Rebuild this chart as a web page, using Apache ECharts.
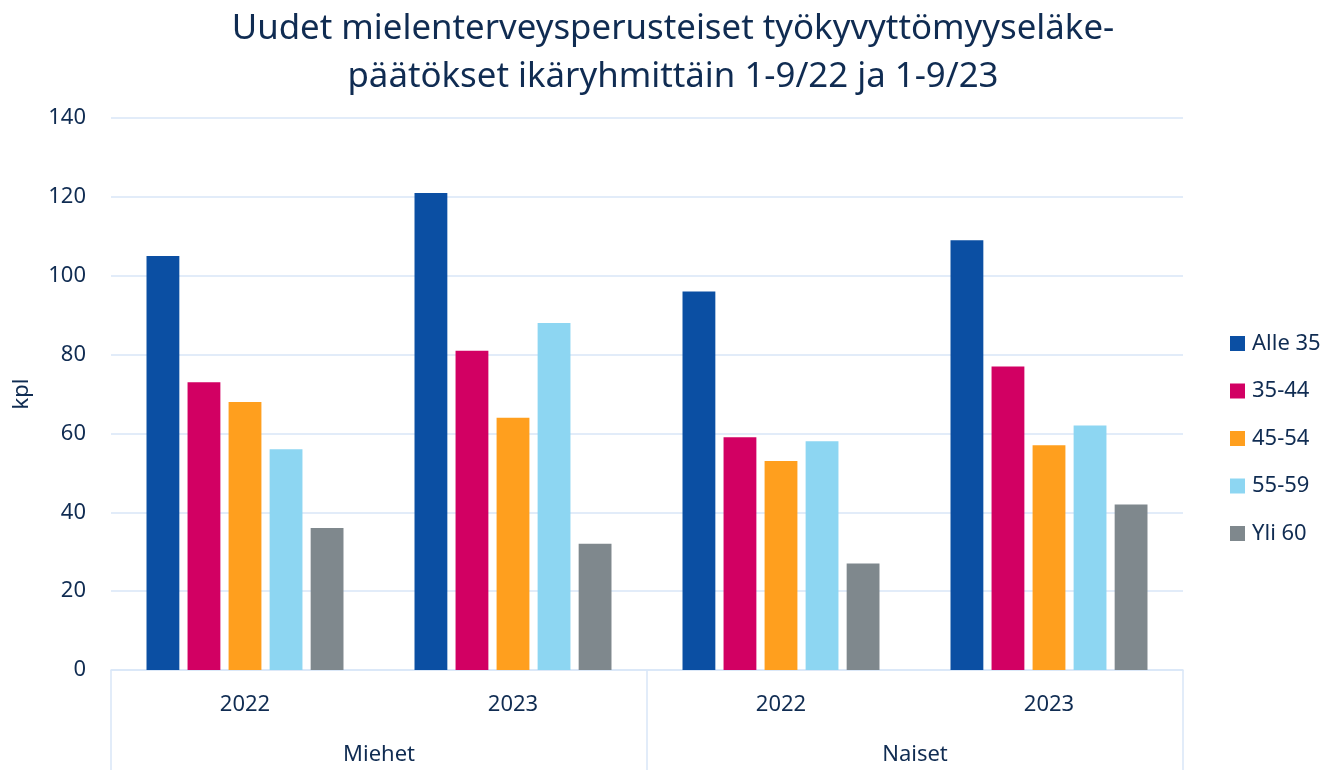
<!DOCTYPE html>
<html>
<head>
<meta charset="utf-8">
<script src="https://cdn.jsdelivr.net/npm/echarts@6/dist/echarts.min.js"></script>
<style>html,body{margin:0;padding:0;background:#fff}#c{width:1326px;height:770px}</style>
</head>
<body>
<div id="c"></div>
<script>
const years = ['2022', '2023', '2022', '2023'];
const groups = ['Miehet', 'Naiset'];
const seriesNames = ['Alle 35', '35-44', '45-54', '55-59', 'Yli 60'];
const alle35 = [105, 121, 96, 109];
const s35_44 = [73, 81, 59, 77];
const s45_54 = [68, 64, 53, 57];
const s55_59 = [56, 88, 58, 62];
const yli60 = [36, 32, 27, 42];
const yTicks = [0, 20, 40, 60, 80, 100, 120, 140];
const colors = ['#0b4fa3', '#d20063', '#ff9f1e', '#8dd6f2', '#7f888d'];
const textColor = '#102c52';
const gridColor = '#d9e6f7';
const FONT = 'Noto Sans';

const values = [alle35, s35_44, s45_54, s55_59, yli60];
const chart = echarts.init(document.getElementById('c'), null, {renderer: 'canvas'});
chart.setOption({
  animation: false,
  color: colors,
  textStyle: {fontFamily: FONT, color: textColor},
  title: {
    text: 'Uudet mielenterveysperusteiset työkyvyttömyyseläke-\npäätökset ikäryhmittäin 1-9/22 ja 1-9/23',
    left: 668, top: 0, textAlign: 'center',
    textStyle: {fontFamily: FONT, fontSize: 34.8, fontWeight: 'normal', color: textColor, lineHeight: 48}
  },
  legend: {
    orient: 'vertical', left: 1225, top: 327.5,
    icon: 'rect', itemWidth: 15, itemHeight: 15, itemGap: 25.5,
    textStyle: {fontFamily: FONT, fontSize: 22, color: textColor, padding: [0, 0, 0, 2]},
    data: seriesNames
  },
  grid: {left: 111, right: 143, top: 118, bottom: 100, containLabel: false},
  xAxis: [
    {
      type: 'category', data: years, gridIndex: 0, position: 'bottom',
      axisLine: {show: true, lineStyle: {color: gridColor, width: 1.5}},
      axisTick: {show: false},
      axisLabel: {fontFamily: FONT, fontSize: 22, color: textColor, margin: 24}
    },
    {
      type: 'category', data: groups, gridIndex: 0, position: 'bottom',
      axisLine: {show: false},
      axisTick: {show: true, length: 100, lineStyle: {color: gridColor, width: 1.5}},
      axisLabel: {fontFamily: FONT, fontSize: 22, color: textColor, margin: 74}
    }
  ],
  yAxis: {
    type: 'value', min: 0, max: 140, interval: 20,
    name: 'kpl', nameLocation: 'middle', nameGap: 78, nameRotate: 90,
    nameTextStyle: {fontFamily: FONT, fontSize: 22, color: textColor},
    axisLine: {show: false}, axisTick: {show: false},
    axisLabel: {fontFamily: FONT, fontSize: 22, color: textColor, margin: 25,
      formatter: v => yTicks.includes(v) ? String(v) : ''},
    splitLine: {lineStyle: {color: gridColor, width: 1.5}}
  },
  series: seriesNames.map((n, i) => ({
    name: n, type: 'bar', xAxisIndex: 0, data: values[i],
    barGap: '25%', barCategoryGap: '26.5%',
    itemStyle: {color: colors[i]}
  }))
});
</script>
</body>
</html>
